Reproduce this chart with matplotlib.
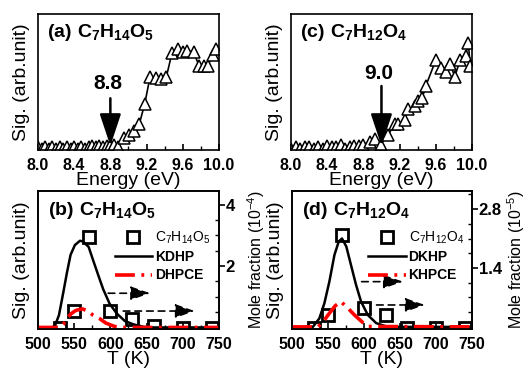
""" plot.py
"""

import matplotlib
matplotlib.use('Agg')
import matplotlib.pyplot as plt
from matplotlib.ticker import MultipleLocator, AutoMinorLocator

plt.rcParams['font.family'] = ['Liberation Sans', 'DejaVu Sans']
plt.rcParams['mathtext.fontset'] = 'custom'
plt.rcParams['mathtext.rm'] = 'Liberation Sans'
plt.rcParams['mathtext.bf'] = 'Liberation Sans:bold'
plt.rcParams['axes.linewidth'] = 1.2

# (a) photoionization efficiency, C7H14O5
energy_a = [8.00, 8.04, 8.08, 8.12, 8.16, 8.20, 8.24, 8.28, 8.32, 8.36, 8.40,
            8.44, 8.48, 8.52, 8.56, 8.60, 8.64, 8.68, 8.72, 8.76, 8.80, 8.84,
            8.88, 8.95, 9.01, 9.06, 9.12, 9.18, 9.24, 9.30, 9.36, 9.42, 9.48,
            9.55, 9.60, 9.65, 9.72, 9.78, 9.83, 9.88, 9.93, 9.97]
signal_a = [0.02, 0.01, 0.02, 0.01, 0.02, 0.01, 0.02, 0.01, 0.02, 0.01, 0.02,
            0.01, 0.02, 0.01, 0.02, 0.03, 0.02, 0.03, 0.02, 0.03, 0.03, 0.04,
            0.02, 0.09, 0.11, 0.14, 0.19, 0.34, 0.54, 0.53, 0.52, 0.54, 0.71,
            0.74, 0.72, 0.73, 0.72, 0.62, 0.62, 0.62, 0.70, 0.74]
threshold_a = 8.8

# (c) photoionization efficiency, C7H12O4
energy_c = [8.00, 8.05, 8.10, 8.15, 8.20, 8.25, 8.30, 8.35, 8.40, 8.45, 8.50,
            8.55, 8.60, 8.65, 8.70, 8.75, 8.80, 8.87, 8.93, 8.99, 9.07, 9.15,
            9.18, 9.26, 9.29, 9.37, 9.40, 9.45, 9.49, 9.60, 9.66, 9.71, 9.76,
            9.81, 9.87, 9.93, 9.96, 9.98]
signal_c = [0.01, 0.02, 0.01, 0.02, 0.02, 0.01, 0.02, 0.01, 0.03, 0.02, 0.02,
            0.04, 0.01, 0.02, 0.03, 0.03, 0.04, 0.06, 0.08, 0.04, 0.11, 0.19,
            0.19, 0.22, 0.30, 0.32, 0.36, 0.38, 0.47, 0.66, 0.60, 0.57, 0.63,
            0.54, 0.66, 0.69, 0.79, 0.62]
threshold_c = 9.0

# (b) / (d) measured signals vs temperature
temp_pts = [530, 550, 570, 600, 630, 660, 700, 740]
sig_b = [0.01, 0.13, 0.67, 0.13, 0.07, 0.02, 0.01, 0.005]
sig_d = [0.01, 0.10, 0.68, 0.15, 0.10, 0.01, 0.01, 0.01]

# (b) model mole fractions (1e-4)
t_kdhp = [520, 524, 529, 535, 540, 545, 551, 558, 562, 570, 576, 583, 590,
          599, 609, 620, 632, 646, 660, 750]
x_kdhp = [0, 0.09, 0.40, 1.14, 1.78, 2.36, 2.68, 2.82, 2.80, 2.62, 2.20, 1.72,
          1.25, 0.77, 0.45, 0.21, 0.10, 0.02, 0, 0]
t_dhpce = [500, 530, 535, 540, 546, 552, 558, 562, 570, 576, 585, 594, 606,
           620, 750]
x_dhpce = [0, 0, 0.10, 0.30, 0.45, 0.55, 0.59, 0.60, 0.52, 0.40, 0.29, 0.14,
           0.03, 0, 0]

# (d) model mole fractions (1e-5)
t_dkhp = [520, 529, 538, 545, 552, 559, 565, 569.5, 575.5, 582, 589, 596,
          605.5, 617, 631, 650, 750]
x_dkhp = [0, 0, 0.20, 0.56, 1.08, 1.71, 2.03, 2.10, 1.91, 1.47, 1.00, 0.60,
          0.28, 0.09, 0.01, 0, 0]
t_khpce = [500, 536, 543, 550, 560, 568, 578, 587, 598, 606, 750]
x_khpce = [0, 0, 0.11, 0.28, 0.50, 0.60, 0.44, 0.28, 0.11, 0.01, 0]

RED_DASH = (0, (5.5, 1.8, 0.8, 1.8))


def style_bottom(ax, major, minor):
    ax.xaxis.set_major_locator(MultipleLocator(major))
    ax.xaxis.set_minor_locator(MultipleLocator(minor))
    ax.tick_params(axis='x', which='both', direction='in', top=False)
    ax.tick_params(axis='x', which='major', length=4, width=1.2,
                   labelsize=11.5, pad=6)
    ax.tick_params(axis='x', which='minor', length=3, width=1.0)
    ax.set_yticks([])


def pie_panel(ax, energy, signal, thr, text_y, arrow_top, title):
    ax.plot(energy, signal, '-', color='black', lw=1.2, marker='^',
            mfc='white', mec='black', mew=1.1, ms=8)
    ax.set_xlim(8.0, 10.0)
    ax.set_ylim(0, 1)
    style_bottom(ax, 0.4, 0.2)
    ax.xaxis.set_major_formatter(plt.FormatStrFormatter('%.1f'))
    for lab in ax.get_xticklabels():
        lab.set_fontweight('bold')
    ax.set_xlabel('Energy (eV)', fontsize=14, labelpad=-1)
    ax.set_ylabel('Sig. (arb.unit)', fontsize=14, labelpad=6)
    ax.annotate('', xy=(thr, 0.03), xytext=(thr, arrow_top),
                arrowprops=dict(arrowstyle='-|>,head_length=0.9,head_width=0.3',
                                color='black', lw=1.8, mutation_scale=22,
                                shrinkA=0, shrinkB=0))
    ax.text(thr - 0.03, text_y, f'{thr:.1f}', fontsize=15, fontweight='bold',
            ha='center', va='center')
    ax.text(0.05, 0.86, title, transform=ax.transAxes, fontsize=14,
            va='center', ha='left')


def temp_panel(ax, sig, t1, x1, t2, x2, lab1, lab2, formula, title, ymax,
               ticks, unit, label_x, arrows):
    ax.plot(temp_pts, sig, 's', mfc='none', mec='black', mew=2.0, ms=9,
            label=formula, zorder=5)
    ax.set_xlim(500, 750)
    ax.set_ylim(0, 1)
    style_bottom(ax, 50, 25)
    for lab in ax.get_xticklabels():
        lab.set_fontweight('bold')
    ax.set_xlabel('T (K)', fontsize=14, labelpad=-1)
    ax.set_ylabel('Sig. (arb.unit)', fontsize=14, labelpad=6)

    ax2 = ax.twinx()
    l1, = ax2.plot(t1, x1, '-', color='black', lw=1.8, label=lab1)
    l2, = ax2.plot(t2, x2, color='red', lw=2.6, linestyle=RED_DASH, label=lab2)
    ax2.set_ylim(-0.05, ymax)
    ax2.set_yticks(ticks)
    ax2.yaxis.set_minor_locator(AutoMinorLocator(4))
    ax2.tick_params(axis='y', which='major', direction='out', length=4,
                    width=1.2, labelsize=12, pad=1)
    ax2.tick_params(axis='y', which='minor', direction='in', length=3,
                    width=1.0)
    for lab in ax2.get_yticklabels():
        lab.set_fontweight('bold')
    ax2.set_ylabel('Mole fraction (10$^{%s}$)' % unit, fontsize=11.5)
    ax2.yaxis.set_label_coords(label_x, 0.5)

    for (x0, x1a, y0) in arrows:
        ax.annotate('', xy=(x1a, y0), xytext=(x0, y0),
                    xycoords='axes fraction', textcoords='axes fraction',
                    arrowprops=dict(arrowstyle='-|>,head_length=1.0,head_width=0.35',
                                    color='black', lw=1.2, linestyle=(0, (4, 3)),
                                    mutation_scale=12, shrinkA=0, shrinkB=0))

    handles = [ax.get_lines()[0], l1, l2]
    leg = ax.legend(handles=handles, loc='upper left',
                    bbox_to_anchor=(0.37, 0.79), frameon=False, fontsize=10,
                    handlelength=2.7, handletextpad=0.2, labelspacing=0.3,
                    borderpad=0.2)
    for txt in leg.get_texts()[1:]:
        txt.set_fontweight('bold')
    ax.text(0.055, 0.86, title, transform=ax.transAxes, fontsize=14,
            va='center', ha='left')


fig = plt.figure(figsize=(5.26, 3.73), dpi=100)

ax_a = fig.add_axes([0.0722, 0.598, 0.344, 0.3646])
ax_c = fig.add_axes([0.5532, 0.598, 0.344, 0.3646])
ax_b = fig.add_axes([0.0722, 0.1180, 0.344, 0.3700])
ax_d = fig.add_axes([0.5551, 0.1180, 0.342, 0.3700])

pie_panel(ax_a, energy_a, signal_a, threshold_a, 0.49, 0.38,
          r'$\mathbf{(a)\ C_7H_{14}O_5}$')
pie_panel(ax_c, energy_c, signal_c, threshold_c, 0.56, 0.47,
          r'$\mathbf{(c)\ C_7H_{12}O_4}$')

temp_panel(ax_b, sig_b, t_kdhp, x_kdhp, t_dhpce, x_dhpce, 'KDHP', 'DHPCE',
           r'C$_7$H$_{14}$O$_5$', r'$\mathbf{(b)\ C_7H_{14}O_5}$', 4.44,
           [2, 4], '-4', 1.145, [(0.388, 0.62, 0.259), (0.471, 0.867, 0.13)])
temp_panel(ax_d, sig_d, t_dkhp, x_dkhp, t_khpce, x_khpce, 'DKHP', 'KHPCE',
           r'C$_7$H$_{12}$O$_4$', r'$\mathbf{(d)\ C_7H_{12}O_4}$', 3.23,
           [1.4, 2.8], '-5', 1.185, [(0.387, 0.617, 0.343), (0.47, 0.739, 0.174)])

fig.savefig('out.png', dpi=100)
